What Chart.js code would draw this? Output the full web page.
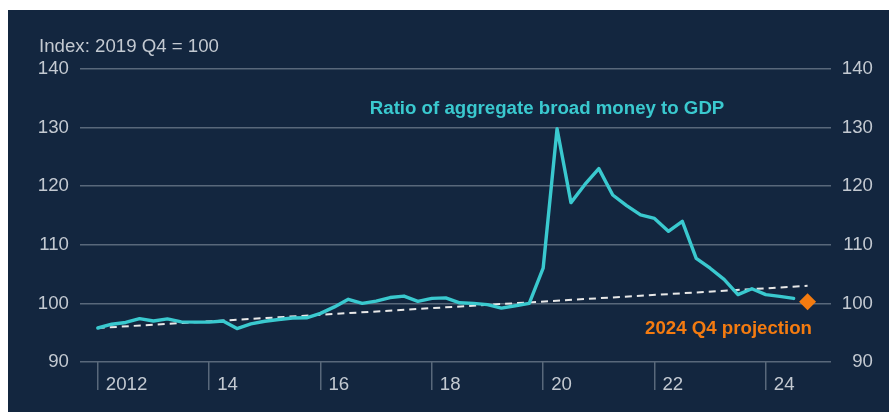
<!DOCTYPE html>
<html><head><meta charset="utf-8">
<script src="https://cdn.jsdelivr.net/npm/chart.js@4.4.1/dist/chart.umd.min.js"></script>
<style>
html,body{margin:0;padding:0;background:#ffffff;width:889px;height:412px;overflow:hidden}
#panel{position:absolute;left:8px;top:10px;width:881px;height:402px;background:#13263F}
canvas{display:block}
</style></head><body>
<div id="panel"><canvas id="c" width="881" height="402"></canvas></div>
<script>
// ---- data ----
const startYear = 2012;
const ratioValues = [
  95.8, 96.45, 96.75, 97.4,   // 2012
  97.0, 97.35, 96.85, 96.8,   // 2013
  96.8, 97.0, 95.7, 96.5,     // 2014
  96.95, 97.25, 97.5, 97.55,  // 2015
  98.3, 99.4, 100.7, 100.0,   // 2016
  100.4, 101.0, 101.25, 100.35, // 2017
  100.85, 100.95, 100.1, 100.0, // 2018
  99.8, 99.2, 99.6, 100.0,    // 2019
  106.0, 129.8, 117.2, 120.3, // 2020
  123.0, 118.5, 116.7, 115.1, // 2021
  114.5, 112.3, 114.0, 107.7, // 2022
  106.0, 104.1, 101.5, 102.5, // 2023
  101.5, 101.2, 100.85        // 2024
];
const quarterLabels = ratioValues.map((_, i) => (startYear + Math.floor(i / 4)) + ' Q' + (i % 4 + 1));
const trendQuarters = ['2012 Q1', '2024 Q4'];
const trendValues = [95.8, 103.0];
const projectionQuarters = ['2024 Q4'];
const projectionValues = [100.3];
const yTickValues = [90, 100, 110, 120, 130, 140];
const xTickYears = [2012, 2014, 2016, 2018, 2020, 2022, 2024];
const xTickLabels = ['2012', '14', '16', '18', '20', '22', '24'];
const axisNote = 'Index: 2019 Q4 = 100';
const seriesLabel = 'Ratio of aggregate broad money to GDP';
const projectionLabel = '2024 Q4 projection';

// ---- helpers ----
function quarterToX(label) {
  const [yr, q] = label.split(' Q');
  return Number(yr) + (Number(q) - 1) / 4;
}
const toPoints = (qs, vs) => qs.map((q, i) => ({ x: quarterToX(q), y: vs[i] }));

const FONT = '"Liberation Sans", Arial, Helvetica, sans-serif';
const FS = 18.67;
const TEAL = '#3AC9CF';
const ORANGE = '#F47B10';
const TEXT = '#C3C9D1';
const GRID = '#59687B';

const textPlugin = {
  id: 'texts',
  afterDraw(chart) {
    const { ctx, chartArea, scales: { x, y } } = chart;
    ctx.save();
    ctx.textBaseline = 'alphabetic';
    ctx.font = FS + 'px ' + FONT;
    ctx.fillStyle = TEXT;
    ctx.textAlign = 'left';
    ctx.fillText(axisNote, chartArea.left - 41, chartArea.top - 17.5);
    ctx.font = 'bold ' + FS + 'px ' + FONT;
    ctx.fillStyle = TEAL;
    ctx.textAlign = 'center';
    ctx.fillText(seriesLabel, x.getPixelForValue(2020.07), y.getPixelForValue(132.4));
    ctx.fillStyle = ORANGE;
    ctx.textAlign = 'right';
    ctx.fillText(projectionLabel, x.getPixelForValue(2024.83), y.getPixelForValue(94.86));
    ctx.restore();
  }
};

Chart.defaults.font.family = FONT;
Chart.defaults.font.size = FS;
Chart.defaults.color = TEXT;

new Chart(document.getElementById('c'), {
  type: 'line',
  data: {
    datasets: [
      {
        data: toPoints(quarterLabels, ratioValues),
        borderColor: TEAL, borderWidth: 3.4, pointRadius: 0,
        tension: 0, borderJoinStyle: 'round', borderCapStyle: 'round', yAxisID: 'y'
      },
      {
        data: toPoints(trendQuarters, trendValues),
        borderColor: '#E8E8E8', borderWidth: 2, borderDash: [7, 5],
        pointRadius: 0, yAxisID: 'y'
      },
      {
        data: toPoints(projectionQuarters, projectionValues),
        showLine: false, pointStyle: 'rectRot', pointRadius: 8.5,
        backgroundColor: ORANGE, borderColor: ORANGE, borderWidth: 0, yAxisID: 'y'
      }
    ]
  },
  options: {
    responsive: false,
    animation: false,
    devicePixelRatio: 1,
    layout: { padding: { top: 59, right: 16, left: 0, bottom: 0 } },
    plugins: { legend: { display: false }, tooltip: { enabled: false }, title: { display: false } },
    scales: {
      x: {
        type: 'linear',
        min: 2011.68, max: 2025.171,
        afterBuildTicks(s) { s.ticks = xTickYears.map(v => ({ value: v })); },
        afterFit(s) { s.height = 50; },
        border: { display: false },
        grid: { drawOnChartArea: false, drawTicks: true, tickLength: 28, color: GRID, lineWidth: 1.5 },
        ticks: {
          autoSkip: false, maxRotation: 0, align: 'start', labelOffset: 8, padding: -16,
          color: TEXT, font: { size: FS },
          callback(v) { const k = xTickYears.indexOf(v); return k >= 0 ? xTickLabels[k] : ''; }
        }
      },
      y: {
        position: 'left', min: 90, max: 140,
        afterBuildTicks(s) { s.ticks = yTickValues.map(v => ({ value: v })); },
        afterFit(s) { s.width = 72; },
        border: { display: false },
        grid: { color: GRID, lineWidth: 1.5, drawTicks: false },
        ticks: { padding: 11, color: TEXT, font: { size: FS } }
      },
      y2: {
        position: 'right', min: 90, max: 140,
        afterBuildTicks(s) { s.ticks = yTickValues.map(v => ({ value: v })); },
        afterFit(s) { s.width = 42; },
        border: { display: false },
        grid: { display: false, drawTicks: false },
        ticks: { crossAlign: 'far', padding: 0, color: TEXT, font: { size: FS } }
      }
    }
  },
  plugins: [textPlugin]
});
</script>
</body></html>
